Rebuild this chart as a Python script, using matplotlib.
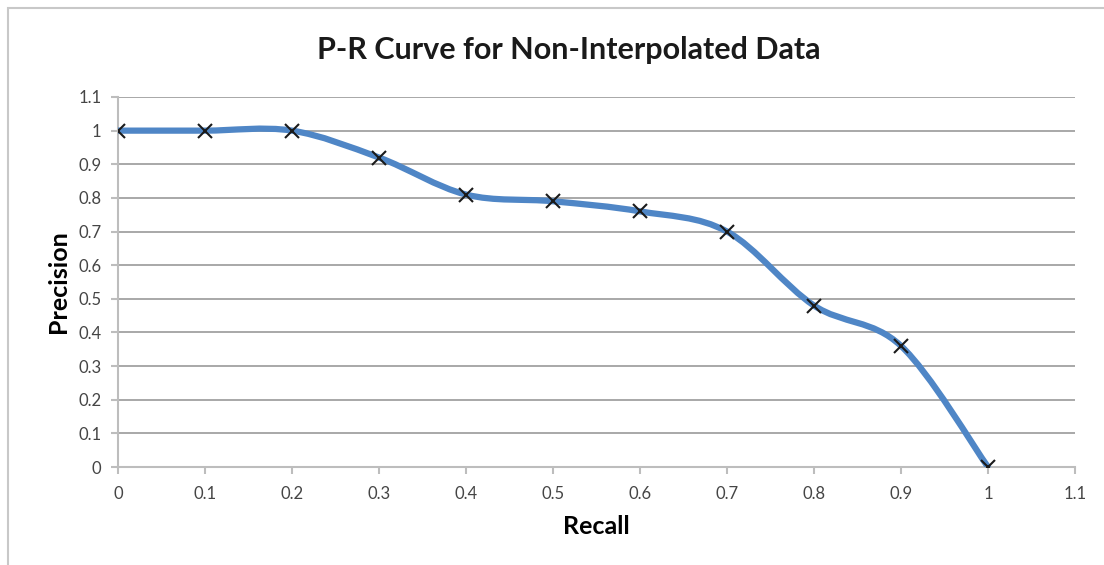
import numpy as np
import matplotlib.pyplot as plt
from matplotlib.path import Path
from matplotlib.patches import PathPatch, Rectangle

# Datos
recall = [0, 0.1, 0.2, 0.3, 0.4, 0.5, 0.6, 0.7, 0.8, 0.9, 1.0]
precision = [1.0, 1.0, 1.0, 0.92, 0.81, 0.79, 0.76, 0.70, 0.48, 0.36, 0.0]
ticks = [0, 0.1, 0.2, 0.3, 0.4, 0.5, 0.6, 0.7, 0.8, 0.9, 1, 1.1]
tick_labels = ["0", "0.1", "0.2", "0.3", "0.4", "0.5", "0.6", "0.7", "0.8", "0.9", "1", "1.1"]

plt.rcParams["font.family"] = ["Lato", "DejaVu Sans"]

fig = plt.figure(figsize=(11.04, 5.65), dpi=100)
fig.patches.append(Rectangle((8 / 1104, -0.01), 1.1, 1 - 8 / 565 + 0.01,
                             transform=fig.transFigure, fill=False,
                             edgecolor="#c8c8c8", linewidth=1.5))
ax = fig.add_axes([118 / 1104, 1 - 467 / 565, (1075 - 118) / 1104, (467 - 97) / 565])

# curva suavizada estilo Excel (Bezier cubica tipo Catmull-Rom)
pts = np.column_stack([recall, precision])
verts = [tuple(pts[0])]
codes = [Path.MOVETO]
n = len(pts)
for i in range(n - 1):
    p0 = pts[i - 1] if i > 0 else pts[i]
    p1 = pts[i]
    p2 = pts[i + 1]
    p3 = pts[i + 2] if i + 2 < n else pts[i + 1]
    c1 = p1 + (p2 - p0) / 6
    c2 = p2 - (p3 - p1) / 6
    verts += [tuple(c1), tuple(c2), tuple(p2)]
    codes += [Path.CURVE4] * 3
ax.add_patch(PathPatch(Path(verts, codes), facecolor="none", edgecolor="#4f86c6",
                       linewidth=4.5, capstyle="round", joinstyle="round", zorder=3))
ax.plot(recall, precision, linestyle="none", marker="x", markersize=9.5,
        markeredgewidth=1.5, color="#1a1a1a", zorder=4)

ax.set_xlim(0, 1.1)
ax.set_ylim(0, 1.1)
ax.set_xticks(ticks)
ax.set_xticklabels(tick_labels)
ax.set_yticks(ticks)
ax.set_yticklabels(tick_labels)
ax.yaxis.grid(True, color="#9a9a9a", linewidth=1.2)
ax.set_axisbelow(True)
for s in ["top", "right"]:
    ax.spines[s].set_visible(False)
for s in ["left", "bottom"]:
    ax.spines[s].set_color("#bdbdbd")
    ax.spines[s].set_linewidth(1.5)
ax.tick_params(axis="both", colors="#bdbdbd", width=1.5, length=5,
               labelcolor="#454545", labelsize=12)
ax.tick_params(axis="x", pad=9)
ax.tick_params(axis="y", pad=7)

ax.set_xlabel("Recall", fontsize=18, fontweight="bold", labelpad=9)
ax.set_ylabel("Precision", fontsize=18, fontweight="bold", labelpad=6)
fig.text(569 / 1104, 1 - 50 / 565, "P-R Curve for Non-Interpolated Data",
         ha="center", va="center", fontsize=22, fontweight="bold", color="#1a1a1a")

fig.savefig("out.png", dpi=100)
